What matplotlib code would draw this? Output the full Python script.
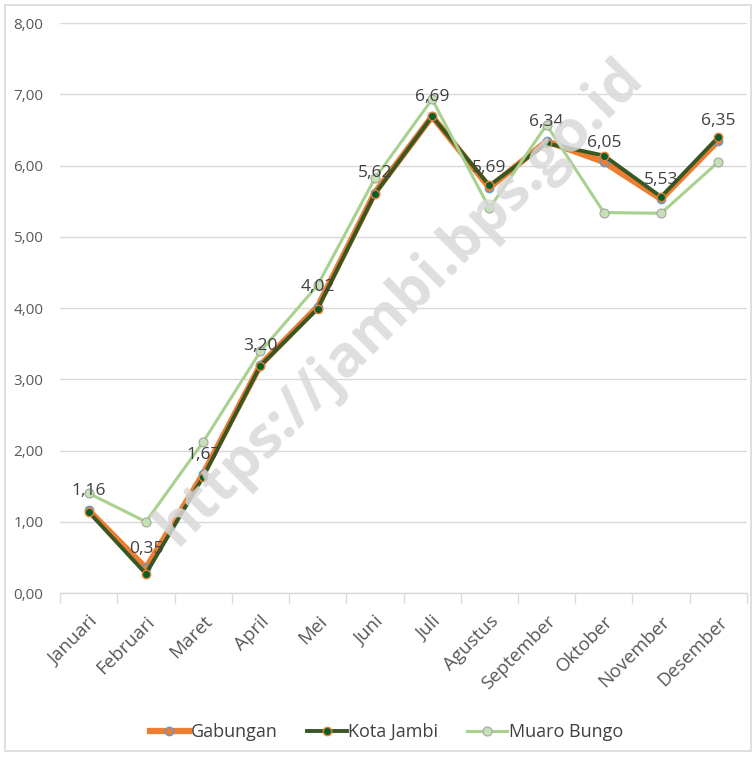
import matplotlib.pyplot as plt
import numpy as np
from matplotlib.ticker import FuncFormatter, FixedLocator

plt.rcParams['font.family'] = ['Open Sans', 'DejaVu Sans']

bulan = ['Januari', 'Februari', 'Maret', 'April', 'Mei', 'Juni', 'Juli',
         'Agustus', 'September', 'Oktober', 'November', 'Desember']
gabungan = [1.16, 0.35, 1.67, 3.20, 4.02, 5.62, 6.69, 5.69, 6.34, 6.05, 5.53, 6.35]
kota_jambi = [1.14, 0.27, 1.63, 3.19, 3.99, 5.60, 6.69, 5.72, 6.31, 6.14, 5.56, 6.40]
muaro_bungo = [1.40, 1.00, 2.12, 3.39, 4.32, 5.82, 6.93, 5.40, 6.57, 5.34, 5.33, 6.05]

fig = plt.figure(figsize=(7.54, 7.57), dpi=100)
ax = fig.add_axes([0.0796, 0.2166, 0.9111, 0.753])

# border around the chart
fig.patches.append(plt.Rectangle((0.006, 0.008), 0.99, 0.985, transform=fig.transFigure,
                                 fill=False, edgecolor='#d9d9d9', linewidth=1.2))

x = np.arange(len(bulan))

# watermark
fig.text(0.53, 0.60, 'https://jambi.bps.go.id', rotation=45, fontsize=42, fontweight='bold',
         color='#d9d9d9', alpha=0.85, ha='center', va='center', zorder=0)

ax.plot(x, gabungan, color='#ED7D31', lw=4.5, marker='o', ms=6,
        mfc='#ED7D31', mec='#5B9BD5', mew=1, label='Gabungan', zorder=3)
ax.plot(x, kota_jambi, color='#385723', lw=2.8, marker='o', ms=6,
        mfc='#00602B', mec='#ED7D31', mew=1, label='Kota Jambi', zorder=4)
ax.plot(x, muaro_bungo, color='#A9D18E', lw=2.2, marker='o', ms=6.5,
        mfc='#C5E0B4', mec='#A5A5A5', mew=0.8, label='Muaro Bungo', zorder=5)

for xi, v in zip(x, gabungan):
    ax.annotate(f'{v:.2f}'.replace('.', ','), (xi, v), xytext=(0, 8),
                textcoords='offset points', ha='center', va='bottom',
                fontsize=12.5, color='#404040', zorder=6)

ax.set_xlim(-0.5, len(bulan) - 0.5)
ax.set_ylim(0, 8)
ax.set_yticks(np.arange(0, 9, 1))
ax.yaxis.set_major_formatter(FuncFormatter(lambda v, p: f'{v:.2f}'.replace('.', ',')))
ax.grid(axis='y', color='#d9d9d9', lw=1)
ax.set_axisbelow(True)

ax.set_xticks(x)
ax.set_xticklabels(bulan, rotation=45, ha='right', rotation_mode='anchor',
                   fontsize=13.5, color='#595959')
ax.xaxis.set_minor_locator(FixedLocator(np.arange(-0.5, len(bulan), 1)))
ax.tick_params(axis='x', which='major', length=0, pad=14)
ax.tick_params(axis='x', which='minor', length=7, color='#d9d9d9', width=1)
ax.tick_params(axis='y', length=0, labelsize=11, labelcolor='#595959', pad=12)

for s in ['top', 'right', 'left']:
    ax.spines[s].set_visible(False)
ax.spines['bottom'].set_color('#d9d9d9')
ax.spines['bottom'].set_linewidth(1)

ax.legend(loc='center', bbox_to_anchor=(0.475, -0.244), ncol=3, frameon=False,
          fontsize=13, handlelength=2.2, handletextpad=0.1, columnspacing=1.6,
          labelcolor='#404040')

fig.savefig('out.png', dpi=100)
